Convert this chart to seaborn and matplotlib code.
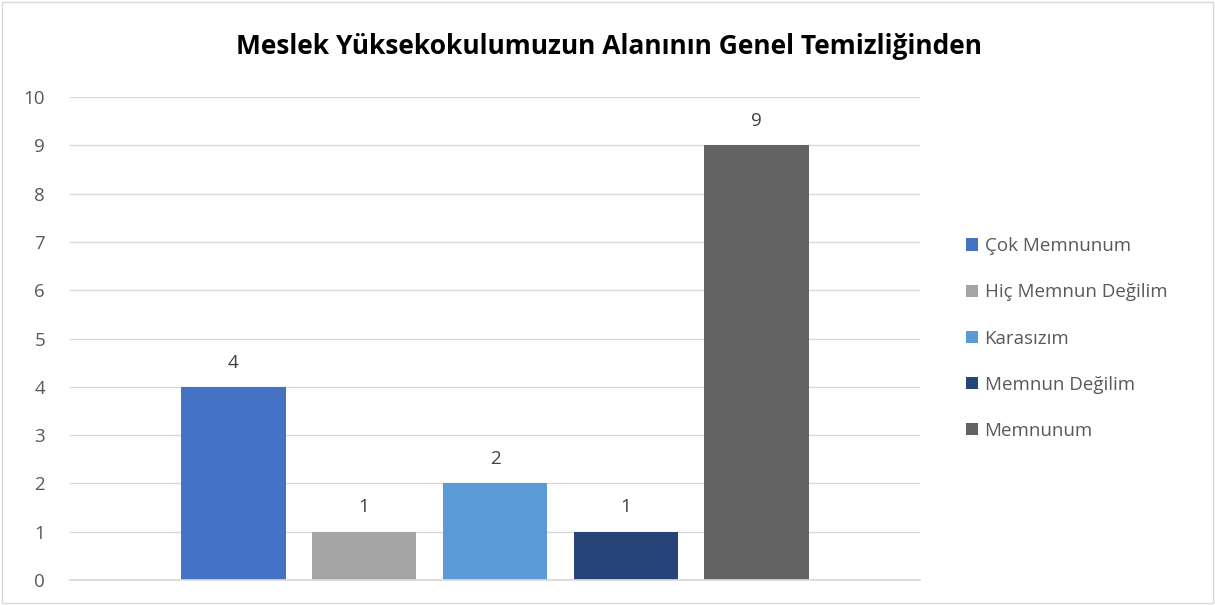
import pandas as pd
import matplotlib.pyplot as plt
import seaborn as sns
from matplotlib.patches import Rectangle

# chart data
categories = ["Çok Memnunum", "Hiç Memnun Değilim", "Karasızım", "Memnun Değilim", "Memnunum"]
counts = [4, 1, 2, 1, 9]
colors = ["#4472C4", "#A5A5A5", "#5B9BD5", "#264478", "#636363"]
title = "Meslek Yüksekokulumuzun Alanının Genel Temizliğinden"

df = pd.DataFrame({"grup": [""] * len(categories), "cevap": categories, "sayi": counts})

sns.set_theme(style="white")
plt.rcParams["font.family"] = ["Open Sans", "DejaVu Sans"]

fig = plt.figure(figsize=(12.15, 6.05), dpi=100)
ax = fig.add_axes([70 / 1215, 1 - 580 / 605, 850 / 1215, 483 / 605])

sns.barplot(data=df, x="grup", y="sayi", hue="cevap", hue_order=categories,
            palette=colors, width=0.77, gap=0.2, saturation=1, linewidth=0, ax=ax)

for cont in ax.containers:
    ax.bar_label(cont, padding=11, fontsize=13.5, color="#404040")

ax.set_ylim(0, 10)
ax.set_xlim(-0.5, 0.5)
ax.set_yticks(range(0, 11))
ax.yaxis.grid(True, color="#D9D9D9", linewidth=1)
ax.set_axisbelow(True)
for s in ["top", "right", "left"]:
    ax.spines[s].set_visible(False)
ax.spines["bottom"].set_color("#D9D9D9")
ax.set_xticks([])
ax.set_xlabel("")
ax.set_ylabel("")
ax.tick_params(axis="y", length=0, labelsize=13.5, labelcolor="#595959", pad=18)

leg = ax.legend(loc="center left", bbox_to_anchor=(1.034, 0.5), frameon=False,
                fontsize=13.5, handlelength=0.65, handleheight=0.65, handletextpad=0.35,
                labelspacing=1.5, labelcolor="#595959")

fig.text(609 / 1215, 1 - 46 / 605, title, ha="center", va="center",
         fontsize=19, fontweight="bold", color="#000000")

fig.patches.append(Rectangle((0.002, 0.003), 0.996, 0.994, transform=fig.transFigure,
                             fill=False, edgecolor="#D9D9D9", linewidth=1))

fig.savefig("out.png", dpi=100)
